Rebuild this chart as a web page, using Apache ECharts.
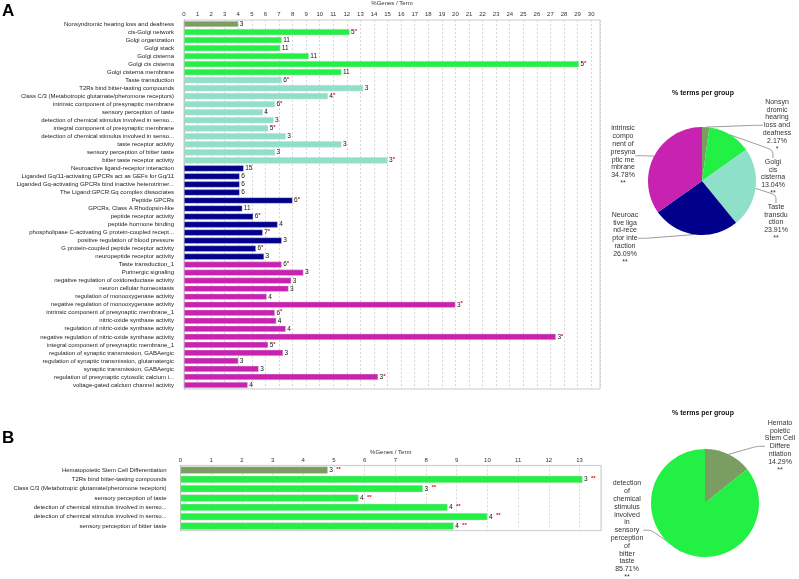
<!DOCTYPE html>
<html>
<head>
<meta charset="utf-8">
<script src="https://cdn.jsdelivr.net/npm/echarts@6/dist/echarts.min.js"></script>
<style>
  html, body { margin: 0; padding: 0; background: #fff; }
  #chart { width: 799px; height: 579px; }
</style>
</head>
<body>
<div id="chart"></div>
<script>
// ---- panel A ----
const termsA = [
  "Nonsyndromic hearing loss and deafness",
  "cis-Golgi network",
  "Golgi organization",
  "Golgi stack",
  "Golgi cisterna",
  "Golgi cis cisterna",
  "Golgi cisterna membrane",
  "Taste transduction",
  "T2Rs bind bitter-tasting compounds",
  "Class C/3 (Metabotropic glutamate/pheromone receptors)",
  "intrinsic component of presynaptic membrane",
  "sensory perception of taste",
  "detection of chemical stimulus involved in senso...",
  "integral component of presynaptic membrane",
  "detection of chemical stimulus involved in senso...",
  "taste receptor activity",
  "sensory perception of bitter taste",
  "bitter taste receptor activity",
  "Neuroactive ligand-receptor interaction",
  "Liganded Gq/11-activating GPCRs act as GEFs for Gq/11",
  "Liganded Gq-activating GPCRs bind inactive heterotrimer...",
  "The Ligand:GPCR:Gq complex dissociates",
  "Peptide GPCRs",
  "GPCRs, Class A Rhodopsin-like",
  "peptide receptor activity",
  "peptide hormone binding",
  "phospholipase C-activating G protein-coupled recept...",
  "positive regulation of blood pressure",
  "G protein-coupled peptide receptor activity",
  "neuropeptide receptor activity",
  "Taste transduction_1",
  "Purinergic signaling",
  "negative regulation of oxidoreductase activity",
  "neuron cellular homeostasis",
  "regulation of monooxygenase activity",
  "negative regulation of monooxygenase activity",
  "intrinsic component of presynaptic membrane_1",
  "nitric-oxide synthase activity",
  "regulation of nitric-oxide synthase activity",
  "negative regulation of nitric-oxide synthase activity",
  "integral component of presynaptic membrane_1",
  "regulation of synaptic transmission, GABAergic",
  "regulation of synaptic transmission, glutamatergic",
  "synaptic transmission, GABAergic",
  "regulation of presynaptic cytosolic calcium i...",
  "voltage-gated calcium channel activity"
];
const pctA = [
  4.0, 12.2, 7.2, 7.1, 9.2, 29.1, 11.6,
  7.2, 13.2, 10.6, 6.7, 5.8, 6.6, 6.2, 7.5, 11.6, 6.7, 15.0,
  4.4, 4.1, 4.1, 4.1, 8.0, 4.3, 5.1, 6.9, 5.8, 7.2, 5.3, 5.9,
  7.2, 8.8, 7.9, 7.7, 6.1, 20.0, 6.7, 6.8, 7.5, 27.4, 6.2, 7.3, 4.0, 5.5, 14.3, 4.7
];
const genesA = [
  3, 5, 11, 11, 11, 5, 11,
  6, 3, 4, 6, 4, 3, 5, 3, 3, 3, 3,
  15, 6, 6, 6, 6, 11, 6, 4, 7, 3, 6, 3,
  6, 3, 3, 3, 4, 3, 6, 4, 4, 3, 5, 3, 3, 3, 3, 4
];
const starsA = [
  "", "*", "", "", "", "*", "",
  "*", "", "*", "*", "", "", "*", "", "", "", "*",
  "", "", "", "", "*", "", "*", "", "*", "", "*", "",
  "*", "", "", "", "", "*", "*", "", "", "*", "*", "", "", "", "*", ""
];
const groupA = [
  0, 1, 1, 1, 1, 1, 1,
  2, 2, 2, 2, 2, 2, 2, 2, 2, 2, 2,
  3, 3, 3, 3, 3, 3, 3, 3, 3, 3, 3, 3,
  4, 4, 4, 4, 4, 4, 4, 4, 4, 4, 4, 4, 4, 4, 4, 4
];
const groupNamesA = [
  "Nonsyndromic hearing loss and deafness",
  "Golgi cis cisterna",
  "Taste transduction",
  "Neuroactive ligand-receptor interaction",
  "intrinsic component of presynaptic membrane"
];
const pieLabelsA = [
  "Nonsyn\ndromic\nhearing\nloss and\ndeafness",
  "Golgi\ncis\ncisterna",
  "Taste\ntransdu\nction",
  "Neuroac\ntive liga\nnd-rece\nptor inte\nraction",
  "intrinsic\ncompo\nnent of\npresyna\nptic me\nmbrane"
];
const piePctA = [2.17, 13.04, 23.91, 26.09, 34.78];
const pieStarsA = ["*", "**", "**", "**", "**"];

// ---- panel B ----
const termsB = [
  "Hematopoietic Stem Cell Differentiation",
  "T2Rs bind bitter-tasting compounds",
  "Class C/3 (Metabotropic glutamate/pheromone receptors)",
  "sensory perception of taste",
  "detection of chemical stimulus involved in senso...",
  "detection of chemical stimulus involved in senso...",
  "sensory perception of bitter taste"
];
const pctB = [4.8, 13.1, 7.9, 5.8, 8.7, 10.0, 8.9];
const genesB = [3, 3, 3, 4, 4, 4, 4];
const starsB = ["**", "**", "**", "**", "**", "**", "**"];
const groupB = [0, 1, 1, 1, 1, 1, 1];
const groupNamesB = [
  "Hematopoietic Stem Cell Differentiation",
  "detection of chemical stimulus involved in sensory perception of bitter taste"
];
const pieLabelsB = [
  "Hemato\npoietic\nStem Cell\nDiffere\nntiation",
  "detection\nof\nchemical\nstimulus\ninvolved\nin\nsensory\nperception\nof\nbitter\ntaste"
];
const piePctB = [14.29, 85.71];
const pieStarsB = ["**", "**"];

const colors = ["#7a9e61", "#22f044", "#8fe0c9", "#00008b", "#c722b0"];
const FONT = "Liberation Sans";

// pie label spots (label centre x, top y)
const labelSpotA = [[777, 98], [773, 158], [776, 203], [625, 211], [623, 124.5]];
const labelSpotB = [[780, 419], [627, 479.5]];

const chart = echarts.init(document.getElementById("chart"));

function xAxisCfg(gridIndex, max, margin, nameGap) {
  return {
    gridIndex: gridIndex,
    type: "value",
    position: "top",
    min: 0,
    max: max,
    interval: 1,
    name: "%Genes / Term",
    nameLocation: "middle",
    nameGap: nameGap,
    nameTextStyle: { fontFamily: FONT, fontSize: 6, color: "#333" },
    axisLine: { show: false },
    axisTick: { show: false },
    axisLabel: { fontFamily: FONT, fontSize: 6, color: "#333", margin: margin, showMaxLabel: false },
    splitLine: { show: true, lineStyle: { color: "#c8c8c8", type: [2, 2], width: 0.7 } }
  };
}

function yAxisCfg(gridIndex, data, margin) {
  return {
    gridIndex: gridIndex,
    type: "category",
    inverse: true,
    data: data,
    axisLine: { show: true, lineStyle: { color: "#bbb" } },
    axisTick: { show: false },
    axisLabel: { interval: 0, fontFamily: FONT, fontSize: 6, color: "#222", margin: margin },
    splitLine: { show: false }
  };
}

function barLabel(genes, stars, sep) {
  return {
    show: true,
    position: "right",
    distance: 1.5,
    formatter: (p) => "{n|" + genes[p.dataIndex] + "}" + (stars[p.dataIndex] ? sep + "{s|" + stars[p.dataIndex] + "}" : ""),
    rich: {
      n: { fontFamily: FONT, fontSize: 6.5, color: "#111" },
      s: { fontFamily: FONT, fontSize: 6, color: "#e01010", fontWeight: "bold", padding: [0, 0, 2, 0] }
    }
  };
}

function pieCfg(center, labels, pct, stars, names, groups, spots) {
  return {
    type: "pie",
    center: center,
    radius: 54,
    startAngle: 90,
    clockwise: true,
    avoidLabelOverlap: false,
    data: pct.map((v, i) => ({
      name: names[i],
      value: v,
      itemStyle: { color: colors[groups[i]] }
    })),
    label: {
      show: true,
      position: "outside",
      formatter: (p) => labels[p.dataIndex] + "\n" + pct[p.dataIndex].toFixed(2) + "%\n" + stars[p.dataIndex],
      fontFamily: FONT,
      fontSize: 7,
      lineHeight: 7.8,
      color: "#333",
      align: "center"
    },
    labelLine: { show: true, length: 8, length2: 8, smooth: 0.3, lineStyle: { color: "#555", width: 0.6 } },
    labelLayout: (p) => ({
      x: spots[p.dataIndex][0],
      y: spots[p.dataIndex][1],
      align: "center",
      verticalAlign: "top"
    }),
    emphasis: { disabled: true }
  };
}

const option = {
  animation: false,
  backgroundColor: "#fff",
  textStyle: { fontFamily: FONT },
  grid: [
    { left: 184, top: 20, width: 416, height: 369, show: true, borderColor: "#ccc", borderWidth: 1, backgroundColor: "#fff", outerBoundsMode: "none" },
    { left: 180.5, top: 465.4, width: 420.5, height: 65.3, show: true, borderColor: "#ccc", borderWidth: 1, backgroundColor: "#fff", outerBoundsMode: "none" }
  ],
  xAxis: [
    xAxisCfg(0, 30.65, 3, 12),
    xAxisCfg(1, 13.7, 2, 10)
  ],
  yAxis: [
    yAxisCfg(0, termsA, 10),
    yAxisCfg(1, termsB, 14)
  ],
  series: [
    {
      type: "bar",
      xAxisIndex: 0,
      yAxisIndex: 0,
      barWidth: 6.2,
      data: pctA.map((v, i) => ({ value: v, itemStyle: { color: colors[groupA[i]] } })),
      itemStyle: { borderColor: "rgba(210,210,210,0.9)", borderWidth: 0.5 },
      label: barLabel(genesA, starsA, ""),
      emphasis: { disabled: true }
    },
    {
      type: "bar",
      xAxisIndex: 1,
      yAxisIndex: 1,
      barWidth: 7.2,
      data: pctB.map((v, i) => ({ value: v, itemStyle: { color: colors[groupB[i]] } })),
      itemStyle: { borderColor: "rgba(210,210,210,0.9)", borderWidth: 0.5 },
      label: barLabel(genesB, starsB, " "),
      emphasis: { disabled: true }
    },
    pieCfg([702, 181], pieLabelsA, piePctA, pieStarsA, groupNamesA, [0, 1, 2, 3, 4], labelSpotA),
    pieCfg([705, 503], pieLabelsB, piePctB, pieStarsB, groupNamesB, [0, 1], labelSpotB)
  ],
  graphic: [
    { type: "text", left: 2, top: 3, style: { text: "A", font: "bold 17px " + FONT, fill: "#000" } },
    { type: "text", left: 2, top: 430, style: { text: "B", font: "bold 17px " + FONT, fill: "#000" } },
    { type: "text", x: 703, y: 93, style: { text: "% terms per group", font: "bold 7px " + FONT, fill: "#111", align: "center", verticalAlign: "middle" } },
    { type: "text", x: 703, y: 413, style: { text: "% terms per group", font: "bold 7px " + FONT, fill: "#111", align: "center", verticalAlign: "middle" } }
  ]
};

chart.setOption(option);
</script>
</body>
</html>
